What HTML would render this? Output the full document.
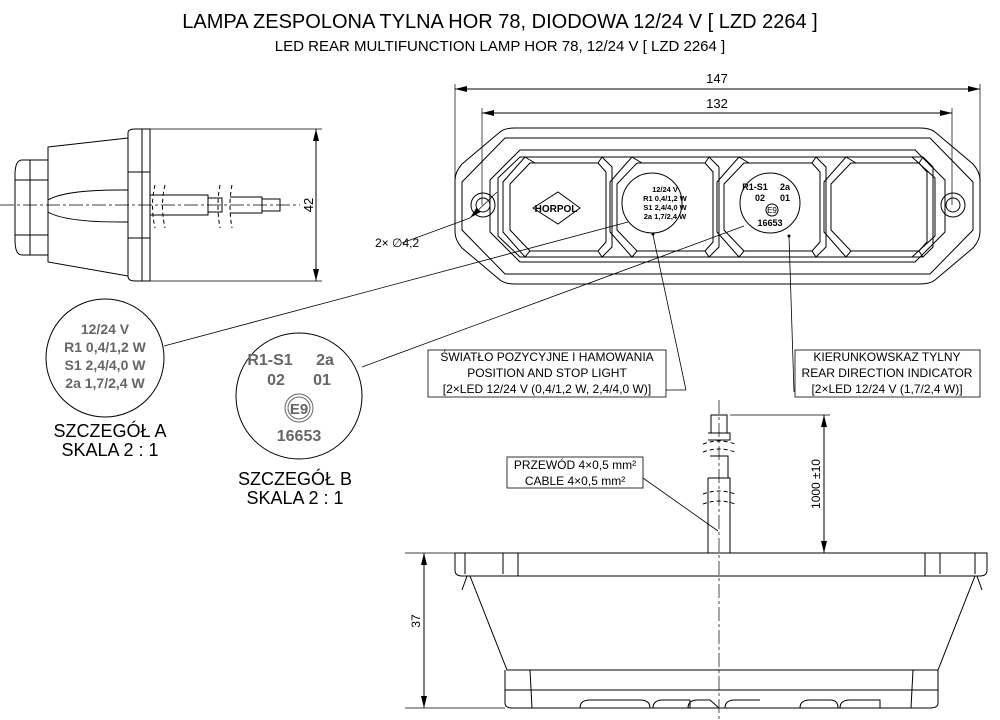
<!DOCTYPE html>
<html><head><meta charset="utf-8"><style>
html,body{margin:0;padding:0;background:#fff;}
svg{display:block;font-family:"Liberation Sans",sans-serif;}
</style></head><body>
<svg width="1000" height="720" viewBox="0 0 1000 720" xmlns="http://www.w3.org/2000/svg">
<defs>
<marker id="a" markerWidth="12" markerHeight="6" refX="12" refY="3" orient="auto-start-reverse" markerUnits="userSpaceOnUse"><path d="M0,0 L12,3 L0,6z" fill="#000"/></marker>
</defs>
<rect width="1000" height="720" fill="#fff"/>
<text x="500" y="28" font-size="20" text-anchor="middle">LAMPA ZESPOLONA TYLNA HOR 78, DIODOWA 12/24 V [ LZD 2264 ]</text>
<text x="500" y="51" font-size="15" text-anchor="middle">LED REAR MULTIFUNCTION LAMP HOR 78, 12/24 V [ LZD 2264 ]</text>

<!-- side view -->
<g fill="none" stroke="#000" stroke-width="1">
<path d="M22,160 Q15,160 15,175 L15,240 Q15,255 22,255 L48,255 L48,160z"/>
<line x1="30" y1="160" x2="30" y2="255"/><line x1="15" y1="180" x2="48" y2="180"/><line x1="15" y1="235" x2="48" y2="235"/>
<path d="M48,147 L128,138 L128,276 L48,262z"/>
<path d="M128,133 Q128,129 135,129 L150,129 L150,281 L135,281 Q128,281 128,276z"/>
<line x1="142" y1="129" x2="142" y2="281"/><line x1="128" y1="172" x2="150" y2="172"/><line x1="128" y1="238" x2="150" y2="238"/>
<path d="M48,200 Q65,190 120,190 L128,190 M48,212 Q65,222 120,222 L128,222"/>
<path d="M150,195 L208,195 L208,215 L150,215 M208,198 L222,198 L222,212 L208,212 M230,197 L262,197 L262,213 L230,213 M262,199 L280,199 L280,211 L262,211"/>
<path d="M155,185 Q150,205 155,228 M165,185 Q160,205 165,228 M220,185 Q216,205 220,228 M232,185 Q228,205 232,228" stroke-dasharray="4,3"/>
<line x1="0" y1="205" x2="300" y2="205" stroke-dasharray="14,3,3,3" stroke-width="0.7"/>
<line x1="150" y1="129" x2="322" y2="129" stroke-width="0.7"/><line x1="150" y1="281" x2="322" y2="281" stroke-width="0.7"/>
<line x1="316" y1="129" x2="316" y2="281" marker-start="url(#a)" marker-end="url(#a)"/>
</g>
<text x="0" y="0" font-size="13" transform="translate(313,205) rotate(-90)" text-anchor="middle">42</text>

<!-- front view -->
<g fill="none" stroke="#000" stroke-width="1">
<line x1="455" y1="84" x2="455" y2="180" stroke-width="0.7"/><line x1="980" y1="84" x2="980" y2="180" stroke-width="0.7"/>
<line x1="455" y1="89" x2="980" y2="89" marker-start="url(#a)" marker-end="url(#a)"/>
<line x1="482" y1="108" x2="482" y2="205" stroke-width="0.7"/><line x1="952" y1="108" x2="952" y2="205" stroke-width="0.7"/>
<line x1="482" y1="113" x2="952" y2="113" marker-start="url(#a)" marker-end="url(#a)"/>
<path d="M455,180 Q455,172 462,164 L500,132 Q505,128 515,128 L920,128 Q930,128 935,132 L973,164 Q980,172 980,180 L980,232 Q980,240 973,248 L935,280 Q930,284 920,284 L515,284 Q505,284 500,280 L462,248 Q455,240 455,232z"/>
<path d="M462,182 L505,138 L930,138 L973,182 L973,230 L930,274 L505,274 L462,230z"/>
<path d="M490,180 L520,150 L915,150 L945,180 L945,232 L915,262 L520,262 L490,232z"/>
<path d="M498,178 L520,157 L912,157 L935,178 L935,236 L912,257 L520,257 L498,236z"/>
<g id="cell"><path d="M503,182 L525,157 L602,157 L612,167 L612,247 L602,257 L525,257 L503,232z"/><path d="M510,184 L530,163 L598,163 L606,172 L606,242 L598,251 L530,251 L510,230z"/><path d="M525,157 L535,163 M602,157 L598,163 M525,257 L530,251 M602,257 L598,251"/></g>
<use href="#cell" x="107"/><use href="#cell" x="214"/><use href="#cell" x="321"/>
<circle cx="483" cy="205" r="12"/><circle cx="483" cy="205" r="7"/>
<circle cx="953" cy="205" r="12"/><circle cx="953" cy="205" r="7"/>
<circle cx="652" cy="203" r="30"/><circle cx="770" cy="203" r="30"/>
<path d="M533,208 L558,192 L580,208 L558,224z"/>
<line x1="402" y1="243" x2="470" y2="218" stroke-width="0.7"/>
<line x1="497" y1="192" x2="470" y2="218" stroke-width="0.7" marker-end="url(#a)"/>
</g>
<text x="717" y="83" font-size="13" text-anchor="middle">147</text>
<text x="717" y="108" font-size="13" text-anchor="middle">132</text>
<text x="556" y="212" font-size="10" font-weight="bold" text-anchor="middle">HORPOL</text>
<g font-size="7.5" font-weight="bold" text-anchor="middle">
<text x="665" y="192">12/24 V</text><text x="665" y="201">R1 0,4/1,2 W</text><text x="665" y="210">S1 2,4/4,0 W</text><text x="665" y="219">2a 1,7/2,4 W</text>
</g>
<g font-size="9" font-weight="bold" text-anchor="middle">
<text x="755" y="190">R1-S1</text><text x="785" y="190">2a</text><text x="760" y="201">02</text><text x="785" y="201">01</text><text x="770" y="226">16653</text>
</g>
<circle cx="772" cy="210" r="6" fill="none" stroke="#000"/><text x="772" y="213" font-size="8" text-anchor="middle">E9</text>
<circle cx="653" cy="234" r="1.5"/><circle cx="789" cy="236" r="1.5"/>
<text x="375" y="247" font-size="12">2× ∅4,2</text>

<!-- detail A -->
<circle cx="105" cy="358" r="59" fill="none" stroke="#000"/>
<g font-size="14" font-weight="bold" fill="#666" text-anchor="middle">
<text x="105" y="334">12/24 V</text><text x="105" y="352">R1 0,4/1,2 W</text><text x="105" y="370">S1 2,4/4,0 W</text><text x="105" y="388">2a 1,7/2,4 W</text>
</g>
<text x="110" y="437" font-size="18" text-anchor="middle">SZCZEGÓŁ A</text>
<text x="110" y="456" font-size="18" text-anchor="middle">SKALA 2 : 1</text>
<line x1="164" y1="346" x2="628" y2="222" stroke="#000" stroke-width="0.8"/>

<!-- detail B -->
<circle cx="299" cy="396" r="63" fill="none" stroke="#000"/>
<g font-size="16" font-weight="bold" fill="#666" text-anchor="middle">
<text x="270" y="365">R1-S1</text><text x="325" y="365">2a</text><text x="276" y="385">02</text><text x="322" y="385">01</text><text x="299" y="441">16653</text>
</g>
<circle cx="299" cy="408" r="14" fill="none" stroke="#666"/><circle cx="299" cy="408" r="11" fill="none" stroke="#666"/>
<text x="299" y="414" font-size="15" font-weight="bold" fill="#666" text-anchor="middle">E9</text>
<text x="295" y="485" font-size="18" text-anchor="middle">SZCZEGÓŁ B</text>
<text x="295" y="504" font-size="18" text-anchor="middle">SKALA 2 : 1</text>
<line x1="362" y1="367" x2="744" y2="226" stroke="#000" stroke-width="0.8"/>

<!-- boxes -->
<g fill="none" stroke="#000" stroke-width="0.8">
<rect x="428" y="350" width="238" height="47"/>
<line x1="666" y1="390" x2="686" y2="390"/><line x1="686" y1="390" x2="653" y2="235"/>
<rect x="795" y="350" width="185" height="47"/>
<line x1="794" y1="392" x2="789" y2="236"/>
<rect x="507" y="457" width="136" height="31"/>
<line x1="643" y1="478" x2="718" y2="531"/>
</g>
<g font-size="12" text-anchor="middle">
<text x="547" y="361">ŚWIATŁO POZYCYJNE I HAMOWANIA</text>
<text x="547" y="377">POSITION AND STOP LIGHT</text>
<text x="547" y="393">[2×LED 12/24 V (0,4/1,2 W, 2,4/4,0 W)]</text>
<text x="887" y="361">KIERUNKOWSKAZ TYLNY</text>
<text x="887" y="377">REAR DIRECTION INDICATOR</text>
<text x="887" y="393">[2×LED 12/24 V (1,7/2,4 W)]</text>
<text x="575" y="469">PRZEWÓD 4×0,5 mm²</text>
<text x="575" y="485">CABLE 4×0,5 mm²</text>
</g>

<!-- bottom view -->
<g fill="none" stroke="#000" stroke-width="1">
<line x1="719" y1="400" x2="719" y2="720" stroke-dasharray="14,3,3,3" stroke-width="0.7"/>
<path d="M711,415 L727,415 L727,433 L711,433z M708,433 L730,433 L730,440 L708,440"/>
<path d="M710,456 L728,456 L728,478 L710,478 M708,478 L730,478 L730,553 M708,478 L708,553"/>
<path d="M703,444 Q719,438 735,444 M703,452 Q719,446 735,452 M703,494 Q719,488 735,494 M703,504 Q719,498 735,504" stroke-dasharray="4,3"/>
<line x1="730" y1="415" x2="830" y2="415" stroke-width="0.7"/>
<line x1="824" y1="415" x2="824" y2="553" marker-start="url(#a)" marker-end="url(#a)"/>
<path d="M455,553 L987,553 L987,570 Q987,576 980,576 L462,576 Q455,576 455,570z"/>
<path d="M465,553 L465,574 M503,553 L503,574 M518,553 L518,576 M925,553 L925,576 M940,553 L940,574 M975,553 L975,574"/>
<path d="M470,576 L507,670 L938,670 L975,576"/>
<path d="M467,576 L462,590 M977,576 L982,590"/>
<path d="M505,670 L505,703 Q505,708 512,708 L930,708 Q938,708 938,703 L938,670"/>
<line x1="505" y1="690" x2="938" y2="690"/>
<path d="M530,670 L532,708 M913,670 L911,708"/>
<path d="M580,708 Q580,700 590,700 L640,700 Q650,700 650,708 M653,708 Q653,700 663,700 L690,700 M690,700 L690,708 M688,708 Q688,700 698,700 L710,700 L719,708 M725,708 Q725,700 735,700 L760,700 M800,708 Q800,700 810,700 L830,700 Q838,700 838,708 M840,708 Q840,700 850,700 L880,700 L880,708"/>
<line x1="405" y1="553" x2="455" y2="553" stroke-width="0.7"/><line x1="405" y1="708" x2="505" y2="708" stroke-width="0.7"/>
<line x1="424" y1="553" x2="424" y2="708" marker-start="url(#a)" marker-end="url(#a)"/>
</g>
<text x="0" y="0" font-size="12" transform="translate(420,621) rotate(-90)" text-anchor="middle">37</text>
<text x="0" y="0" font-size="12" transform="translate(820,484) rotate(-90)" text-anchor="middle">1000 ±10</text>
</svg>
</body></html>
